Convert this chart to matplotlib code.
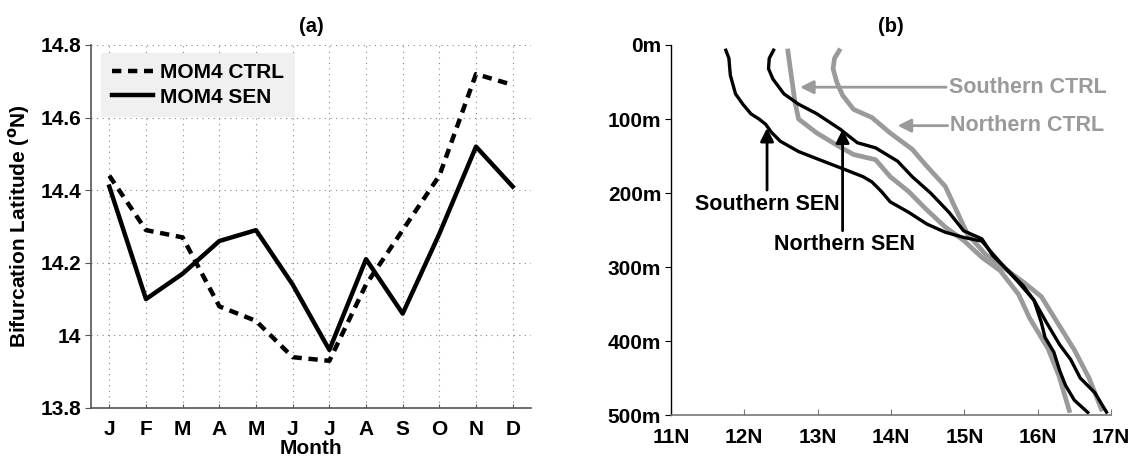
import matplotlib
matplotlib.use("Agg")
import matplotlib.pyplot as plt
import numpy as np

plt.rcParams['font.family'] = ['Liberation Sans', 'DejaVu Sans']
plt.rcParams['font.weight'] = 'bold'
plt.rcParams['mathtext.default'] = 'bf'

# (a) monthly bifurcation latitude
months = ['J', 'F', 'M', 'A', 'M', 'J', 'J', 'A', 'S', 'O', 'N', 'D']
ctrl_lat = [14.44, 14.29, 14.27, 14.08, 14.04, 13.94, 13.93, 14.14, 14.29, 14.44, 14.72, 14.69]
sen_lat = [14.41, 14.10, 14.17, 14.26, 14.29, 14.14, 13.96, 14.21, 14.06, 14.28, 14.52, 14.41]

# (b) bifurcation latitude vs depth
s_sen_lat = [11.74, 11.79, 11.80, 11.81, 11.88, 11.98, 12.09, 12.20, 12.29, 12.37, 12.49,
             12.74, 13.05, 13.39, 13.62, 13.74, 13.87, 13.99, 14.24, 14.49, 14.74, 14.99,
             15.24, 15.35, 15.50, 15.75, 15.95, 16.12, 16.30, 16.45, 16.58, 16.78, 16.95]
s_sen_dep = [5, 18, 30, 41, 66, 80, 93, 100, 107, 118, 130,
             144, 156, 169, 178, 185, 198, 212, 226, 242, 253, 260,
             265, 278, 295, 322, 345, 375, 405, 425, 450, 470, 498]
n_sen_lat = [12.41, 12.34, 12.33, 12.39, 12.54, 12.74, 12.99, 13.31, 13.45, 13.54, 13.79,
             14.09, 14.29, 14.54, 14.79, 14.99, 15.24, 15.39, 15.60, 15.80, 15.95,
             16.05, 16.10, 16.22, 16.30, 16.38, 16.50, 16.70]
n_sen_dep = [5, 18, 32, 46, 66, 80, 93, 114, 125, 132, 139,
             157, 178, 200, 226, 251, 262, 285, 305, 325, 345,
             375, 395, 415, 440, 460, 480, 498]
s_ctrl_lat = [12.59, 12.62, 12.66, 12.69, 12.74, 12.99, 13.29, 13.49, 13.79, 13.99,
              14.24, 14.49, 14.74, 14.99, 15.24, 15.49, 15.74, 15.89, 16.14, 16.29, 16.44]
s_ctrl_dep = [5, 27, 55, 77, 100, 119, 137, 148, 155, 178,
              198, 223, 246, 264, 287, 305, 337, 369, 410, 447, 497]
n_ctrl_lat = [13.31, 13.23, 13.21, 13.26, 13.34, 13.49, 13.74, 13.99, 14.29, 14.49,
              14.74, 14.89, 15.04, 15.29, 15.59, 15.80, 16.05, 16.25, 16.50, 16.70, 16.88]
n_ctrl_dep = [5, 18, 32, 50, 68, 87, 98, 119, 141, 164,
              191, 223, 255, 283, 305, 320, 340, 372, 412, 450, 495]

fig = plt.figure(figsize=(11.33, 4.62), dpi=100)
ax1 = fig.add_axes([0.0803, 0.1169, 0.3884, 0.7857])
ax2 = fig.add_axes([0.5922, 0.1017, 0.3884, 0.8009])

# ---- panel (a)
x = np.arange(1, 13)
ax1.plot(x, ctrl_lat, color='black', lw=3.2, ls=(0, (2.1, 1.5)), label='MOM4 CTRL')
ax1.plot(x, sen_lat, color='black', lw=3.2, label='MOM4 SEN')
ax1.set_xlim(0.5, 12.5)
ax1.set_ylim(13.8, 14.8)
ax1.set_xticks(x)
ax1.set_xticklabels(months)
ax1.set_yticks([13.8, 14.0, 14.2, 14.4, 14.6, 14.8])
ax1.set_yticklabels(['13.8', '14', '14.2', '14.4', '14.6', '14.8'])
ax1.grid(True, color='#888888', ls=(0, (1, 4)), lw=0.8)
for s in ['top', 'right']:
    ax1.spines[s].set_visible(False)
for s in ['left', 'bottom']:
    ax1.spines[s].set_color('#555555')
    ax1.spines[s].set_linewidth(1.2)
ax1.tick_params(axis='x', direction='in', length=3, color='#555555', labelsize=15, pad=9)
ax1.tick_params(axis='y', direction='out', length=4, color='#555555', labelsize=15, pad=3)
ax1.set_xlabel('Month', fontsize=15, fontweight='bold', labelpad=0)
ax1.set_ylabel(r'Bifurcation Latitude ($^{\mathbf{o}}$N)', fontsize=15, fontweight='bold', labelpad=6)
ax1.set_title('(a)', fontsize=14.5, fontweight='bold', pad=9)
leg = ax1.legend(loc='upper left', bbox_to_anchor=(0.023, 0.978), borderaxespad=0,
                 frameon=True, fancybox=False, facecolor='#f0f0f0', edgecolor='none',
                 framealpha=1, handlelength=2.0, handletextpad=0.35,
                 prop={'weight': 'bold', 'size': 15}, borderpad=0.5, labelspacing=0.25)

# ---- panel (b)
gray = '#9a9a9a'
ax2.plot(s_ctrl_lat, s_ctrl_dep, color=gray, lw=3.4, solid_capstyle='butt')
ax2.plot(n_ctrl_lat, n_ctrl_dep, color=gray, lw=3.4, solid_capstyle='butt')
ax2.plot(s_sen_lat, s_sen_dep, color='black', lw=2.4, solid_capstyle='butt')
ax2.plot(n_sen_lat, n_sen_dep, color='black', lw=2.4, solid_capstyle='butt')
ax2.set_xlim(11, 17)
ax2.set_ylim(500, 0)
ax2.set_xticks(range(11, 18))
ax2.set_xticklabels(['%dN' % v for v in range(11, 18)])
ax2.set_yticks(range(0, 501, 100))
ax2.set_yticklabels(['%dm' % v for v in range(0, 501, 100)])
for s in ['top', 'right']:
    ax2.spines[s].set_visible(False)
ax2.spines['left'].set_color('black')
ax2.spines['bottom'].set_color('#777777')
ax2.spines['left'].set_linewidth(1.0)
ax2.spines['bottom'].set_linewidth(1.2)
ax2.tick_params(axis='x', direction='in', length=4, color='#777777', labelsize=15, pad=9)
ax2.tick_params(axis='y', direction='out', length=4, color='black', labelsize=15, pad=3)
ax2.set_title('(b)', fontsize=14.5, fontweight='bold', pad=9)

arrow_gray = dict(arrowstyle='-|>', color=gray, lw=2, mutation_scale=20, shrinkA=0, shrinkB=0)
ax2.annotate('Southern CTRL', xy=(12.76, 57), xytext=(14.79, 57), color=gray,
             fontsize=15.5, fontweight='bold', va='center', ha='left', arrowprops=arrow_gray)
ax2.annotate('Northern CTRL', xy=(14.09, 109), xytext=(14.81, 109), color=gray,
             fontsize=15.5, fontweight='bold', va='center', ha='left', arrowprops=arrow_gray)

arrow_blk = dict(arrowstyle='-|>', color='black', lw=2, mutation_scale=20, shrinkA=0, shrinkB=0)
ax2.annotate('', xy=(12.31, 112), xytext=(12.31, 196), arrowprops=arrow_blk)
ax2.text(12.31, 215, 'Southern SEN', fontsize=15.5, fontweight='bold', ha='center', va='center')
ax2.annotate('', xy=(13.34, 114), xytext=(13.34, 251), arrowprops=arrow_blk)
ax2.text(13.36, 269, 'Northern SEN', fontsize=15.5, fontweight='bold', ha='center', va='center')

fig.savefig('out.png', dpi=100)
